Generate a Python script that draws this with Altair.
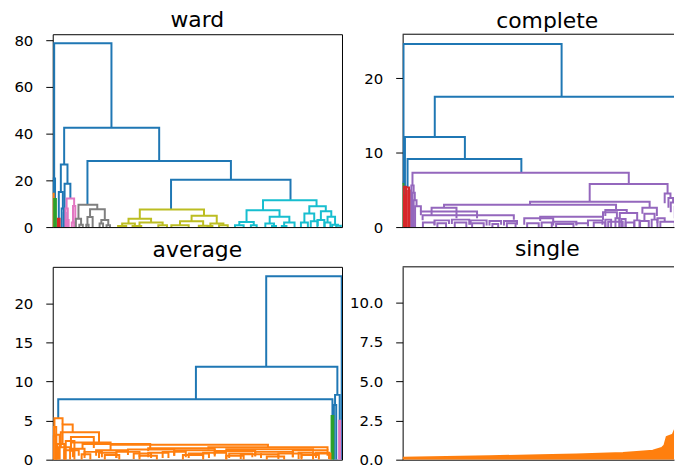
import altair as alt
import pandas as pd

# ---------------- data ----------------
# Each link of a dendrogram: (x_left, x_right, y_left_bottom, y_right_bottom, y_top, cluster)
# x in per-mille of the full panel width, y in merge distance.
ward_links = [
    (5, 203, 20.8, 42.5, 78.7, 'C0'),
    (39.5, 368, 26.8, 28.3, 42.5, 'C0'),
    (120, 616, 9.6, 20.3, 28.3, 'C0'),
    (409, 822, 7.5, 11.5, 20.3, 'C0'),
    (2, 8, 14.3, 12.0, 20.8, 'C0'),
    (28, 51, 15.0, 18.6, 26.8, 'C0'),
    (21, 35, 3.6, 8.0, 15.0, 'C0'),
    (31, 39, 0, 0, 8.0, 'C0'),
    (41, 61, 6.0, 12.2, 18.6, 'C0'),
    (38, 44, 0, 0, 6.0, 'C0'),
    (0.8, 3.2, 0, 0, 14.3, 'C1'),
    (5, 11, 0, 0, 12.0, 'C2'),
    (18, 24, 0, 0, 3.6, 'C3'),
    (48, 74, 8.0, 9.0, 12.2, 'C6'),
    (44, 52, 0, 3.0, 8.0, 'C6'),
    (70, 78, 2.0, 0, 9.0, 'C6'),
    (49, 55, 0, 0, 3.0, 'C6'),
    (66, 74, 0, 0, 2.0, 'C6'),
    (89, 154, 3.6, 7.6, 9.6, 'C7'),
    (80, 98, 0, 1.0, 3.6, 'C7'),
    (129, 180, 4.3, 3.0, 7.6, 'C7'),
    (120, 138, 1.0, 0, 4.3, 'C7'),
    (168, 192, 1.5, 0.8, 3.0, 'C7'),
    (92, 104, 0, 0, 1.0, 'C7'),
    (116, 124, 0, 0, 1.0, 'C7'),
    (162, 174, 0, 0, 1.5, 'C7'),
    (186, 198, 0, 0, 0.8, 'C7'),
    (301, 523, 3.6, 4.8, 7.5, 'C8'),
    (262, 340, 1.5, 2.0, 3.6, 'C8'),
    (240, 284, 0.5, 0.5, 1.5, 'C8'),
    (226, 254, 0, 0, 0.5, 'C8'),
    (276, 292, 0, 0, 0.5, 'C8'),
    (300, 380, 0.5, 0.8, 2.0, 'C8'),
    (294, 306, 0, 0, 0.5, 'C8'),
    (365, 395, 0, 0, 0.8, 'C8'),
    (480, 567, 2.5, 1.5, 4.8, 'C8'),
    (440, 520, 0.8, 0.6, 2.5, 'C8'),
    (410, 470, 0, 0, 0.8, 'C8'),
    (505, 535, 0, 0, 0.6, 'C8'),
    (545, 590, 0.5, 0.8, 1.5, 'C8'),
    (538, 552, 0, 0, 0.5, 'C8'),
    (575, 605, 0, 0, 0.8, 'C8'),
    (727, 912, 7.2, 8.9, 11.5, 'C9'),
    (670, 784, 2.2, 4.4, 7.2, 'C9'),
    (645, 695, 0.8, 0.8, 2.2, 'C9'),
    (630, 660, 0, 0, 0.8, 'C9'),
    (685, 705, 0, 0, 0.8, 'C9'),
    (750, 818, 1.5, 2.0, 4.4, 'C9'),
    (735, 765, 0, 0.5, 1.5, 'C9'),
    (758, 772, 0, 0, 0.5, 'C9'),
    (800, 836, 0.5, 0, 2.0, 'C9'),
    (792, 808, 0, 0, 0.5, 'C9'),
    (887, 944, 5.8, 6.8, 8.9, 'C9'),
    (870, 904, 2.0, 2.5, 5.8, 'C9'),
    (858, 882, 0, 0, 2.0, 'C9'),
    (892, 916, 0, 0.5, 2.5, 'C9'),
    (927, 963, 3.0, 4.4, 6.8, 'C9'),
    (915, 939, 0, 0, 3.0, 'C9'),
    (950, 976, 2.0, 1.0, 4.4, 'C9'),
    (940, 960, 0, 0, 2.0, 'C9'),
    (966, 986, 0, 0.6, 1.0, 'C9'),
    (980, 996, 0, 0, 0.6, 'C9'),
]

complete_links = [
    (3, 549, 6.0, 17.5, 24.6, 'C0'),
    (111, 985, 12.1, 6.0, 17.5, 'C0'),
    (8, 215, 5.4, 9.15, 12.1, 'C0'),
    (17, 410, 5.3, 7.3, 9.15, 'C0'),
    (1.5, 4.5, 5.8, 0, 6.0, 'C0'),
    (0.5, 2.5, 0, 0, 5.8, 'C2'),
    (4, 12, 0, 0, 5.4, 'C3'),
    (12, 22, 0, 0, 5.3, 'C3'),
    (19, 25, 0, 0, 4.9, 'C3'),
    (6, 10, 0, 0, 4.2, 'C3'),
    (34, 781, 5.6, 5.8, 7.3, 'C4'),
    (30, 38, 0, 4.6, 5.6, 'C4'),
    (34, 42, 0, 3.6, 4.6, 'C4'),
    (38, 48, 0, 2.8, 3.6, 'C4'),
    (43, 63, 0, 2.1, 2.8, 'C4'),
    (63, 257, 1.6, 1.2, 2.1, 'C4'),
    (646, 915, 3.4, 4.5, 5.8, 'C4'),
    (440, 853, 3.0, 2.6, 3.4, 'C4'),
    (143, 737, 2.6, 2.3, 3.0, 'C4'),
    (100, 186, 1.5, 1.2, 2.6, 'C4'),
    (828, 878, 1.8, 1.5, 2.6, 'C4'),
    (700, 774, 1.5, 1.8, 2.3, 'C4'),
    (905, 925, 3.2, 3.9, 4.5, 'C4'),
    (918, 934, 2.6, 3.3, 3.9, 'C4'),
    (926, 950, 2.0, 2.7, 3.3, 'C4'),
    (940, 962, 1.2, 1.5, 2.7, 'C4'),
    (955, 975, 0.8, 1.0, 1.5, 'C4'),
    (69, 384, 0.9, 1.0, 1.6, 'C4'),
    (110, 160, 0.3, 0.4, 0.9, 'C4'),
    (170, 230, 0.4, 0.3, 1.0, 'C4'),
    (235, 290, 0.3, 0.2, 0.9, 'C4'),
    (300, 340, 0.2, 0.3, 0.8, 'C4'),
    (350, 395, 0.2, 0.3, 0.8, 'C4'),
    (420, 520, 0.3, 0.4, 1.2, 'C4'),
    (475, 692, 0.8, 1.0, 1.4, 'C4'),
    (520, 600, 0.2, 0.3, 0.7, 'C4'),
    (600, 640, 0.2, 0.1, 0.5, 'C4'),
    (692, 740, 1.0, 1.2, 2.0, 'C4'),
    (750, 810, 1.1, 0.9, 1.9, 'C4'),
    (700, 720, 0, 0, 1.0, 'C4'),
    (735, 748, 0, 0, 1.2, 'C4'),
    (755, 770, 0, 0, 1.1, 'C4'),
    (800, 818, 0, 0, 0.9, 'C4'),
    (835, 870, 0.8, 1.0, 1.8, 'C4'),
    (860, 880, 0, 0, 1.0, 'C4'),
    (820, 850, 0, 0, 0.8, 'C4'),
    (880, 905, 0.5, 0.8, 1.2, 'C4'),
    (70, 110, 0, 0.2, 0.6, 'C4'),
    (120, 150, 0, 0, 0.5, 'C4'),
    (180, 220, 0, 0, 0.6, 'C4'),
    (240, 280, 0, 0, 0.5, 'C4'),
    (310, 330, 0, 0, 0.4, 'C4'),
    (360, 390, 0, 0, 0.5, 'C4'),
    (430, 470, 0, 0, 0.5, 'C4'),
    (480, 515, 0, 0, 0.6, 'C4'),
    (530, 590, 0, 0, 0.4, 'C4'),
    (640, 690, 0.1, 0.3, 0.9, 'C4'),
    (660, 700, 0, 0, 0.6, 'C4'),
    (710, 760, 0, 0, 0.7, 'C4'),
    (770, 800, 0, 0, 0.6, 'C4'),
    (890, 940, 0, 0, 0.7, 'C4'),
    (975, 995, 3.0, 2.0, 6.0, 'C4'),
]

average_links = [
    (738, 999, 11.9, 0, 23.5, 'C0'),
    (495, 984, 7.75, 8.3, 11.9, 'C0'),
    (19, 967, 5.3, 5.6, 7.75, 'C0'),
    (976, 992, 7.0, 5.0, 8.3, 'C0'),
    (972, 980, 0, 0, 7.0, 'C0'),
    (964, 970, 0, 0, 5.6, 'C2'),
    (990, 994, 0, 0, 5.0, 'C6'),
    (6, 34, 3.0, 4.5, 5.3, 'C1'),
    (2, 10, 0, 0, 3.0, 'C1'),
    (34, 69, 2.0, 3.5, 4.5, 'C1'),
    (4, 12, 0, 0, 4.2, 'C1'),
    (12, 24, 0, 0, 3.2, 'C1'),
    (28, 160, 1.5, 2.2, 3.5, 'C1'),
    (63, 142, 1.2, 1.5, 2.9, 'C1'),
    (63, 200, 1.0, 1.9, 2.2, 'C1'),
    (103, 337, 1.5, 1.4, 2.0, 'C1'),
    (200, 744, 1.2, 1.6, 1.9, 'C1'),
    (538, 950, 1.3, 1.2, 1.6, 'C1'),
    (330, 560, 1.1, 1.2, 1.45, 'C1'),
    (600, 900, 1.0, 1.0, 1.35, 'C1'),
    (150, 260, 0.5, 0.8, 1.2, 'C1'),
    (260, 420, 0.6, 0.5, 1.3, 'C1'),
    (420, 560, 0.5, 0.6, 1.2, 'C1'),
    (560, 700, 0.4, 0.5, 1.1, 'C1'),
    (700, 830, 0.4, 0.3, 1.0, 'C1'),
    (830, 950, 0.3, 0.5, 1.2, 'C1'),
    (900, 960, 0, 0, 0.8, 'C1'),
    (40, 90, 0, 0.5, 1.2, 'C1'),
    (15, 40, 0, 0, 2.0, 'C1'),
    (20, 60, 0, 0, 1.6, 'C1'),
    (45, 75, 0, 0, 2.4, 'C1'),
    (70, 110, 0.3, 0.5, 1.4, 'C1'),
    (100, 130, 0, 0, 0.7, 'C1'),
    (110, 170, 0.2, 0.3, 1.0, 'C1'),
    (160, 220, 0.2, 0.2, 0.9, 'C1'),
    (180, 230, 0, 0, 0.6, 'C1'),
    (220, 300, 0.2, 0.3, 1.0, 'C1'),
    (280, 340, 0.1, 0.2, 0.8, 'C1'),
    (300, 360, 0, 0, 0.5, 'C1'),
    (330, 400, 0.3, 0.2, 0.9, 'C1'),
    (380, 460, 0.2, 0.3, 1.0, 'C1'),
    (450, 520, 0, 0, 0.6, 'C1'),
    (470, 540, 0.2, 0.2, 0.8, 'C1'),
    (520, 600, 0.3, 0.1, 0.9, 'C1'),
    (600, 660, 0, 0, 0.5, 'C1'),
    (610, 690, 0.2, 0.3, 0.8, 'C1'),
    (650, 720, 0.1, 0.2, 0.7, 'C1'),
    (720, 780, 0.2, 0.1, 0.7, 'C1'),
    (740, 800, 0, 0, 0.4, 'C1'),
    (780, 860, 0.3, 0.2, 0.8, 'C1'),
    (850, 900, 0.1, 0.2, 0.9, 'C1'),
    (860, 920, 0, 0, 0.6, 'C1'),
    (910, 955, 0.2, 0.1, 0.9, 'C1'),
]

# single linkage: chaining staircase envelope (orange) + top merge (off the visible edge)
single_x = [0, 150, 300, 475, 600, 761, 820, 864, 895, 904, 912, 919, 933, 942, 950, 955, 958, 961, 966]
single_y = [0.12, 0.17, 0.22, 0.28, 0.33, 0.43, 0.5, 0.57, 0.75, 0.9, 1.45, 1.5, 1.6, 2.0, 2.3, 2.4, 2.6, 3.4, 3.5]
single_links = [
    (975, 995, 3.6, 0, 11.7, 'C0'),
]

titles = ['ward', 'complete', 'average', 'single']
ward_ticks = [0, 20, 40, 60, 80]
complete_ticks = [0, 10, 20]
average_ticks = [0, 5, 10, 15, 20]
single_ticks = [0.0, 2.5, 5.0, 7.5, 10.0]

# ---------------- styling ----------------
CL_DOMAIN = ['C0', 'C1', 'C2', 'C3', 'C4', 'C5', 'C6', 'C7', 'C8', 'C9']
CL_RANGE = ['#1f77b4', '#ff7f0e', '#2ca02c', '#d62728', '#9467bd',
            '#8c564b', '#e377c2', '#7f7f7f', '#bcbd22', '#17becf']
AX_LEFT = 40
AX_RIGHT = 54
COL_SPACING = 5
W_LEFT = 291
W_RIGHT = 273
XMAX_RIGHT = 1000 * W_RIGHT / 291.3
H = 194
FONT = 'DejaVu Sans'
LABEL_SIZE = 15


def to_df(links):
    rows = []
    for i, (xl, xr, yl, yr, yt, c) in enumerate(links):
        for j, (x, y) in enumerate([(xl, yl), (xl, yt), (xr, yt), (xr, yr)]):
            rows.append({'link': i, 'o': j, 'x': x, 'y': y, 'c': c})
    return pd.DataFrame(rows)


def yaxis(ticks, fmt, domain, extent):
    return alt.Axis(values=ticks, format=fmt, title=None, grid=False, domain=domain,
                    domainColor='black', domainWidth=1, tickColor='black', tickSize=7,
                    tickWidth=1, labelFont=FONT, labelFontSize=LABEL_SIZE, labelColor='black',
                    labelPadding=13, minExtent=extent, maxExtent=extent)


def panel(links, title, ymax, ticks, fmt, right, offset, area=None):
    width = W_RIGHT if right else W_LEFT
    xmax = XMAX_RIGHT if right else 1000
    xaxis = alt.Axis(labels=False, ticks=False, domain=True, domainColor='black',
                     domainWidth=1, title=None, grid=False) if right else None
    xenc = alt.X('x:Q', scale=alt.Scale(domain=[0, xmax], nice=False, zero=False), axis=xaxis)
    yenc = alt.Y('y:Q', scale=alt.Scale(domain=[0, ymax], nice=False),
                 axis=yaxis(ticks, fmt, right, AX_RIGHT if right else AX_LEFT))
    cenc = alt.Color('c:N', scale=alt.Scale(domain=CL_DOMAIN, range=CL_RANGE), legend=None)
    layers = []
    if area is not None:
        adf = pd.DataFrame({'x': area[0], 'y': area[1], 'c': 'C1'})
        layers.append(alt.Chart(adf).mark_area(clip=True, opacity=1).encode(x=xenc, y=yenc, color=cenc))
        layers.append(alt.Chart(adf).mark_line(clip=True, strokeWidth=2).encode(x=xenc, y=yenc, color=cenc))
    layers.append(alt.Chart(to_df(links)).mark_line(strokeWidth=2, clip=True).encode(
        x=xenc, y=yenc, detail='link:N', order='o:Q', color=cenc))
    if right:
        layers.append(alt.Chart(pd.DataFrame({'k': [0]})).mark_rule(color='black', strokeWidth=1).encode(
            y=alt.value(0), x=alt.value(0), x2=alt.value(width)))
    t = alt.TitleParams(text=title, fontSize=22, font=FONT, fontWeight='normal', color='black',
                        anchor='middle', offset=offset, baseline='bottom', dx=9 if right else 0)
    view = alt.ViewBackground(stroke='transparent') if right else alt.ViewBackground(stroke='black', strokeWidth=1)
    return alt.layer(*layers).properties(width=width, height=H, title=t, view=view)


ward = panel(ward_links, titles[0], 82.6, ward_ticks, 'd', False, -21)
complete = panel(complete_links, titles[1], 25.9, complete_ticks, 'd', True, -21)
average = panel(average_links, titles[2], 24.7, average_ticks, 'd', False, -17)
single = panel(single_links, titles[3], 12.29, single_ticks, '.1f', True, -17, area=(single_x, single_y))

top = alt.hconcat(ward, complete, spacing=COL_SPACING)
bottom = alt.hconcat(average, single, spacing=COL_SPACING)
chart = alt.vconcat(top, bottom, spacing=2).properties(
    padding={'left': 4, 'top': -1, 'right': 0, 'bottom': 0},
    background='white'
).configure_view(stroke='black', strokeWidth=1).configure_axis(
    labelFontSize=LABEL_SIZE, labelFont=FONT, labelColor='black'
)

chart.save('out.html', embed_options={'renderer': 'svg', 'actions': False})
